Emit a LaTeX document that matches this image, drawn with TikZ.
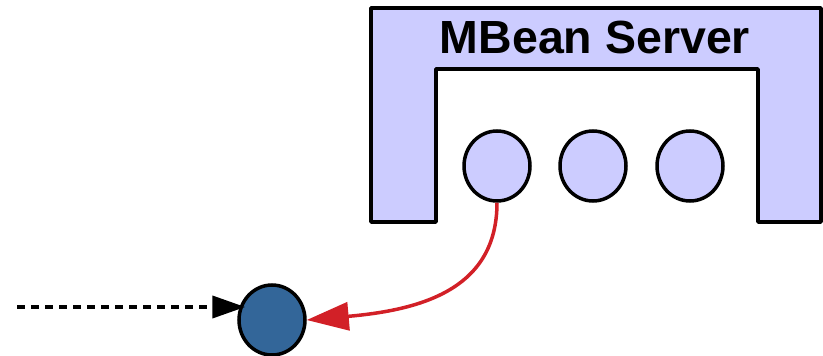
\documentclass[tikz,border=0pt]{standalone}
\usepackage{fontspec}
\setmainfont{Liberation Sans}
\usetikzlibrary{arrows.meta,shapes.geometric}
\definecolor{lav}{RGB}{204,204,255}
\definecolor{mbblue}{RGB}{51,102,153}
\definecolor{linkred}{RGB}{210,32,39}
\begin{document}
\begin{tikzpicture}[x=1pt,y=-1pt,
  frame/.style={draw=black,line width=3.5pt,line join=round,fill=lav},
  mbean/.style={ellipse,draw=black,line width=3.5pt,fill=lav,minimum width=66pt,minimum height=70pt,inner sep=0pt},
  client/.style={ellipse,draw=black,line width=3.5pt,fill=mbblue,minimum width=66pt,minimum height=70pt,inner sep=0pt},
  title/.style={font=\bfseries\fontsize{46.5}{50}\selectfont,inner sep=0pt,anchor=base}]
\useasboundingbox (0,0) rectangle (823,356);
% server frame: an upside-down U
\draw[frame] (371,8) -- (821,8) -- (821,222) -- (758,222) -- (758,69)
  -- (436,69) -- (436,222) -- (371,222) -- cycle;
\node[title] (srv) at (595,53) {MBean Server};
% registered MBeans
\node[mbean] (m1) at (497,166) {};
\node[mbean] (m2) at (593,166) {};
\node[mbean] (m3) at (690,166) {};
% client-side proxy
\node[client] (px) at (272,320) {};
\coordinate (src) at (17,307);
\draw[line width=4pt,dash pattern=on 8pt off 6pt,shorten >=-8pt,-{Triangle[length=33pt,width=22pt]}]
  (src) -- (px.west |- src);
\draw[linkred,line width=3.5pt,-{Triangle[length=42pt,width=28pt]}]
  (m1.south) .. controls (497,290) and (420,310) .. (px.east);
\end{tikzpicture}
\end{document}
